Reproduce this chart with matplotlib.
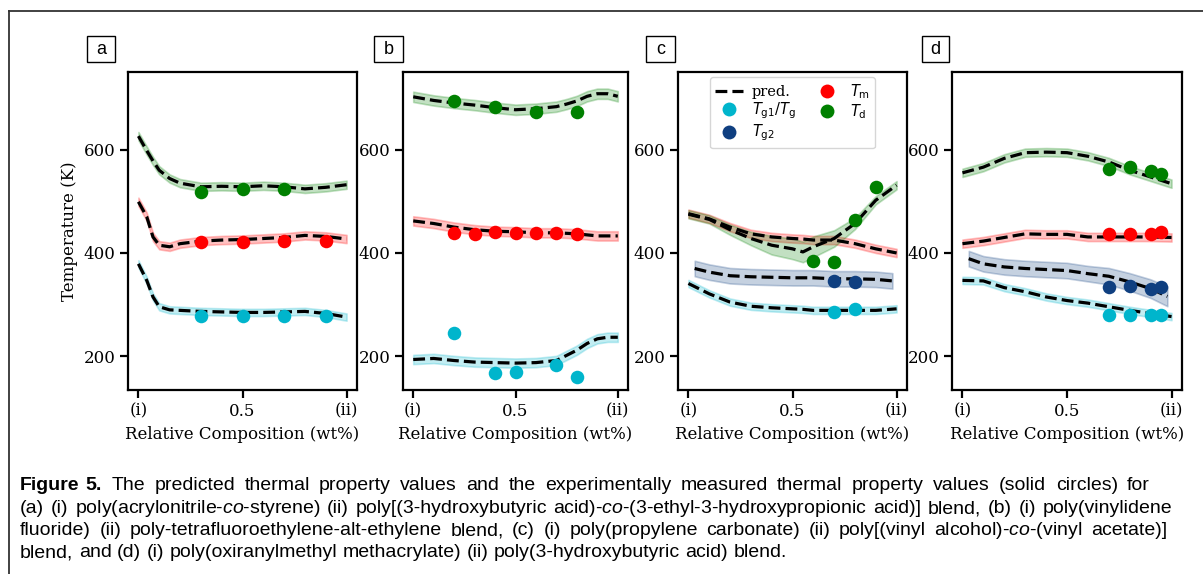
import matplotlib
matplotlib.use("Agg")
import matplotlib.pyplot as plt
from matplotlib.lines import Line2D
from matplotlib.patches import Rectangle

plt.rcParams['font.family'] = 'DejaVu Serif'
plt.rcParams['mathtext.fontset'] = 'custom'
plt.rcParams['mathtext.rm'] = 'DejaVu Sans'
plt.rcParams['mathtext.it'] = 'DejaVu Sans:italic'
plt.rcParams['mathtext.sf'] = 'Liberation Sans:italic'
plt.rcParams['mathtext.bf'] = 'Liberation Sans:bold'

# colours
col_tg = '#00b5cc'
col_tg2 = '#0f3f80'
col_tm = '#ff0000'
col_td = '#008000'

# ---- panel a ----
a_x = [0, 0.04, 0.07, 0.1, 0.15, 0.2, 0.3, 0.4, 0.5, 0.6, 0.7, 0.8, 0.9, 1.0]
a_td = [626, 598, 578, 560, 544, 535, 528, 529, 528, 530, 528, 524, 527, 532]
a_tm = [499, 470, 431, 415, 412, 418, 423, 425, 426, 428, 430, 434, 432, 427]
a_tg = [379, 347, 315, 296, 290, 289, 287, 286, 285, 285, 286, 287, 283, 276]
a_tg_x = [0.3, 0.5, 0.7, 0.9]
a_tg_exp = [278, 278, 279, 278]
a_tm_x = [0.3, 0.5, 0.7, 0.9]
a_tm_exp = [421, 421, 423, 423]
a_td_x = [0.3, 0.5, 0.7]
a_td_exp = [518, 523, 523]

# ---- panel b ----
b_x = [0, 0.1, 0.2, 0.3, 0.4, 0.5, 0.6, 0.7, 0.75, 0.8, 0.85, 0.9, 0.95, 1.0]
b_td = [702, 695, 690, 686, 681, 677, 679, 683, 688, 694, 703, 708, 708, 703]
b_tm = [462, 457, 450, 445, 442, 441, 439, 439, 438, 437, 435, 433, 433, 433]
b_tg = [194, 196, 192, 189, 188, 187, 188, 192, 202, 212, 225, 234, 237, 237]
b_tg_x = [0.2, 0.4, 0.5, 0.7, 0.8]
b_tg_exp = [245, 167, 170, 183, 161]
b_tm_x = [0.2, 0.3, 0.4, 0.5, 0.6, 0.7, 0.8]
b_tm_exp = [439, 436, 441, 439, 439, 439, 436]
b_td_x = [0.2, 0.4, 0.6, 0.8]
b_td_exp = [694, 683, 673, 673]

# ---- panel c ----
c_x = [0, 0.1, 0.2, 0.3, 0.4, 0.5, 0.55, 0.6, 0.7, 0.8, 0.9, 1.0]
c_tm = [476, 466, 450, 437, 431, 428, 427, 425, 425, 418, 408, 400]
c_td = [475, 465, 445, 428, 415, 408, 402, 412, 428, 457, 502, 531]
c_td_err = [8, 8, 10, 13, 18, 20, 20, 20, 16, 11, 8, 8]
c_tg = [341, 321, 305, 297, 294, 292, 291, 289, 289, 289, 289, 292]
c_tg2_x = [0.03, 0.1, 0.2, 0.3, 0.4, 0.5, 0.6, 0.7, 0.8, 0.9, 0.98]
c_tg2 = [370, 363, 356, 354, 353, 352, 352, 350, 350, 349, 346]
c_tg_x = [0.7, 0.8]
c_tg_exp = [286, 292]
c_tg2_exp = [346, 344]
c_td_x = [0.6, 0.7, 0.8, 0.9]
c_td_exp = [385, 383, 463, 528]

# ---- panel d ----
d_x = [0, 0.1, 0.2, 0.3, 0.4, 0.5, 0.6, 0.7, 0.8, 0.9, 1.0]
d_td = [555, 566, 583, 594, 595, 594, 587, 576, 560, 547, 534]
d_tm = [418, 423, 430, 437, 436, 436, 431, 431, 431, 431, 430]
d_tg = [347, 346, 333, 325, 315, 308, 303, 296, 289, 283, 277]
d_tg2_x = [0.03, 0.1, 0.2, 0.3, 0.4, 0.5, 0.6, 0.7, 0.8, 0.9, 0.98]
d_tg2 = [389, 379, 373, 370, 368, 366, 360, 355, 344, 331, 316]
d_tg2_err = [15, 15, 15, 15, 15, 15, 15, 16, 17, 18, 19]
d_exp_x = [0.7, 0.8, 0.9, 0.95]
d_tg_exp = [281, 281, 281, 281]
d_tg2_exp = [334, 337, 331, 335]
d_tm_exp = [436, 436, 437, 440]
d_td_exp = [562, 566, 558, 552]

W, H = 1203, 574
fig = plt.figure(figsize=(W / 100, H / 100), dpi=100)


def px_axes(l, r, t, b):
    return fig.add_axes([l / W, 1 - b / H, (r - l) / W, (b - t) / H])


def band(ax, x, y, err, color):
    if not isinstance(err, list):
        err = [err] * len(y)
    lo = [v - e for v, e in zip(y, err)]
    hi = [v + e for v, e in zip(y, err)]
    ax.fill_between(x, lo, hi, color=color, alpha=0.24, lw=1.2, zorder=1)
    ax.plot(x, y, color='black', ls='--', lw=2.3, zorder=3)


def dots(ax, x, y, color):
    ax.scatter(x, y, s=95, color=color, zorder=4, linewidths=0)


axes_px = [(128, 357), (403, 628), (678, 907), (952, 1182)]
label_px = [(87, 115), (374, 403), (646, 675), (922, 949)]
axs = []
for (l, r), (bl, br), name in zip(axes_px, label_px, 'abcd'):
    ax = px_axes(l, r, 72, 390)
    ax.set_xlim(-0.05, 1.05)
    ax.set_ylim(135, 750)
    ax.set_xticks([0, 0.5, 1])
    ax.set_xticklabels(['(i)', '0.5', '(ii)'])
    ax.set_yticks([200, 400, 600])
    ax.tick_params(labelsize=12, length=6, width=1.6, direction='out', pad=3)
    for sp in ax.spines.values():
        sp.set_linewidth(1.6)
    ax.set_xlabel('Relative Composition (wt%)', fontsize=12, labelpad=5)
    fig.add_artist(Rectangle((bl / W, 1 - 62 / H), (br - bl) / W, 26 / H,
                             transform=fig.transFigure, fc='white', ec='black', lw=1))
    fig.text((bl + br) / 2 / W, 1 - 49 / H, name, ha='center', va='center',
             fontsize=13, family='Liberation Sans')
    axs.append(ax)

axs[0].set_ylabel('Temperature (K)', fontsize=12)

ax = axs[0]
band(ax, a_x, a_td, 8, col_td)
band(ax, a_x, a_tm, 8, col_tm)
band(ax, a_x, a_tg, 7, col_tg)
dots(ax, a_td_x, a_td_exp, col_td)
dots(ax, a_tm_x, a_tm_exp, col_tm)
dots(ax, a_tg_x, a_tg_exp, col_tg)

ax = axs[1]
band(ax, b_x, b_td, 10, col_td)
band(ax, b_x, b_tm, 9, col_tm)
band(ax, b_x, b_tg, 9, col_tg)
dots(ax, b_td_x, b_td_exp, col_td)
dots(ax, b_tm_x, b_tm_exp, col_tm)
dots(ax, b_tg_x, b_tg_exp, col_tg)

ax = axs[2]
band(ax, c_x, c_tm, 8, col_tm)
band(ax, c_x, c_td, c_td_err, col_td)
band(ax, c_tg2_x, c_tg2, 15, col_tg2)
band(ax, c_x, c_tg, 7, col_tg)
dots(ax, c_td_x, c_td_exp, col_td)
dots(ax, c_tg_x, c_tg2_exp, col_tg2)
dots(ax, c_tg_x, c_tg_exp, col_tg)

ax = axs[3]
band(ax, d_x, d_td, 8, col_td)
band(ax, d_x, d_tm, 8, col_tm)
band(ax, d_tg2_x, d_tg2, d_tg2_err, col_tg2)
band(ax, d_x, d_tg, 7, col_tg)
dots(ax, d_exp_x, d_td_exp, col_td)
dots(ax, d_exp_x, d_tm_exp, col_tm)
dots(ax, d_exp_x, d_tg2_exp, col_tg2)
dots(ax, d_exp_x, d_tg_exp, col_tg)

# legend in panel c
mk = dict(marker='o', ls='none', markersize=10, markeredgewidth=0)
handles = [
    Line2D([], [], color='black', ls='--', lw=2.3),
    Line2D([], [], color=col_tg, **mk),
    Line2D([], [], color=col_tg2, **mk),
    Line2D([], [], color=col_tm, **mk),
    Line2D([], [], color=col_td, **mk),
]
labels = ['pred.', r'$T_{\rm g1}/T_{\rm g}$', r'$T_{\rm g2}$', r'$T_{\rm m}$', r'$T_{\rm d}$']
axs[2].legend(handles, labels, loc='upper center', ncol=2, fontsize=10.5,
              handlelength=1.9, columnspacing=1.2, labelspacing=0.1,
              borderaxespad=0.35, handletextpad=0.6, borderpad=0.35)

# outer frame
fig.add_artist(Line2D([8.5 / W, 1], [1 - 11 / H, 1 - 11 / H], color='#333333', lw=1.3,
                      transform=fig.transFigure))
fig.add_artist(Line2D([8.5 / W, 8.5 / W], [0, 1 - 11 / H], color='#333333', lw=1.3,
                      transform=fig.transFigure))

# caption (justified word by word)
cap_fs = 14.0
renderer = fig.canvas.get_renderer()


def place_words(text, x0, x1, base, **kw):
    words = text.split(' ')
    ts = [fig.text(0, 1 - base / H, w, ha='left', va='baseline', fontsize=cap_fs,
                   family='Liberation Sans', **kw) for w in words]
    ws = [t.get_window_extent(renderer).width for t in ts]
    if x1 is None or len(words) == 1:
        gap = 0.278 * cap_fs * 100 / 72
    else:
        gap = (x1 - x0 - sum(ws)) / (len(words) - 1)
    x = x0
    for t, w in zip(ts, ws):
        t.set_x(x / W)
        x += w + gap
    return x - gap


fig_end = place_words('Figure 5.', 20, None, 490, fontweight='bold')
place_words('The predicted thermal property values and the experimentally measured '
            'thermal property values (solid circles) for', fig_end + 10, 1150, 490)
place_words(r'(a) (i) poly(acrylonitrile-$\mathsf{co}$-styrene) (ii) poly[(3-hydroxybutyric '
            r'acid)-$\mathsf{co}$-(3-ethyl-3-hydroxypropionic acid)] blend, (b) (i) poly(vinylidene',
            20, 1172, 513)
place_words(r'fluoride) (ii) poly-tetrafluoroethylene-alt-ethylene blend, (c) (i) '
            r'poly(propylene carbonate) (ii) poly[(vinyl alcohol)-$\mathsf{co}$-(vinyl acetate)]',
            20, 1167, 535)
place_words('blend, and (d) (i) poly(oxiranylmethyl methacrylate) (ii) '
            'poly(3-hydroxybutyric acid) blend.', 20, None, 557)

fig.savefig('out.png', dpi=100)
